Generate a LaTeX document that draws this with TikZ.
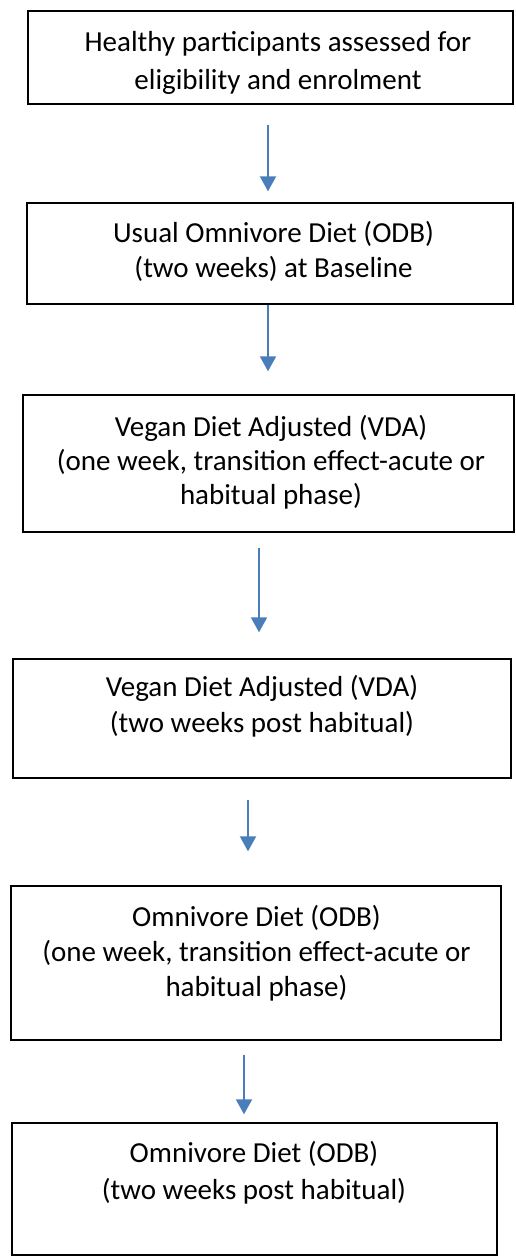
\documentclass[tikz,border=0pt]{standalone}
\usepackage{fontspec}
\setmainfont{Carlito}
\usepackage{tikz}
\usetikzlibrary{positioning, calc, arrows.meta}
\definecolor{arrowblue}{RGB}{74,126,187}

\begin{document}
\begin{tikzpicture}[
        x=1pt, y=-1pt,
        box/.style={rectangle, draw=black, line width=1.4pt, inner sep=0pt},
        txt/.style={anchor=base, align=center, inner sep=0pt, font=\fontsize{29}{35}\selectfont},
        arrow/.style={-{Triangle[width=16pt, length=15pt]}, color=arrowblue, line width=2pt}
    ]
        \useasboundingbox (0,0) rectangle (515,1257);

        % frames
        \node[box, minimum width=485pt, minimum height=93pt] (ENR) at (270.5,57.5) {};
        \node[box, minimum width=486pt, minimum height=101pt] (ODB1) at (270,253.5) {};
        \node[box, minimum width=491pt, minimum height=137pt] (VDA1) at (268.5,463.5) {};
        \node[box, minimum width=498pt, minimum height=119pt] (VDA2) at (262,718.5) {};
        \node[box, minimum width=490pt, minimum height=154pt] (ODB2) at (256,963) {};
        \node[box, minimum width=485pt, minimum height=132pt] (ODB3) at (254.5,1189) {};

        % texts (anchored at the baseline of the last line)
        \node[txt, font=\fontsize{29}{38}\selectfont] (ENRtxt) at (278,89.5) {Healthy participants assessed for\\eligibility and enrolment};
        \node[txt] (ODB1txt) at (273.5,277.5) {Usual Omnivore Diet (ODB)\\(two weeks) at Baseline};
        \node[txt, font=\fontsize{29}{34}\selectfont] (VDA1txt) at (271,504.5) {Vegan Diet Adjusted (VDA)\\(one week, transition effect-acute or\\habitual phase)};
        \node[txt, font=\fontsize{29}{36}\selectfont] (VDA2txt) at (262,732.5) {Vegan Diet Adjusted (VDA)\\(two weeks post habitual)};
        \node[txt] (ODB2txt) at (256.5,996.5) {Omnivore Diet (ODB)\\(one week, transition effect-acute or\\habitual phase)};
        \node[txt, font=\fontsize{29}{37}\selectfont] (ODB3txt) at (254,1199.5) {Omnivore Diet (ODB)\\(two weeks post habitual)};

        % arrows
        \draw[arrow, shorten <=20pt, shorten >=11pt] ([xshift=-2.5pt]ENR.south) -- ([xshift=-2.5pt]ENR.south |- ODB1.north);
        \draw[arrow, shorten >=23pt] ([xshift=-2pt]ODB1.south) -- ([xshift=-2pt]ODB1.south |- VDA1.north);
        \draw[arrow, shorten <=15pt, shorten >=26pt] ([xshift=-9.5pt]VDA1.south) -- ([xshift=-9.5pt]VDA1.south |- VDA2.north);
        \draw[arrow, shorten <=21pt, shorten >=34pt] ([xshift=-14pt]VDA2.south) -- ([xshift=-14pt]VDA2.south |- ODB2.north);
        \draw[arrow, shorten <=14pt, shorten >=8pt] ([xshift=-12pt]ODB2.south) -- ([xshift=-12pt]ODB2.south |- ODB3.north);
    \end{tikzpicture}
\end{document}
